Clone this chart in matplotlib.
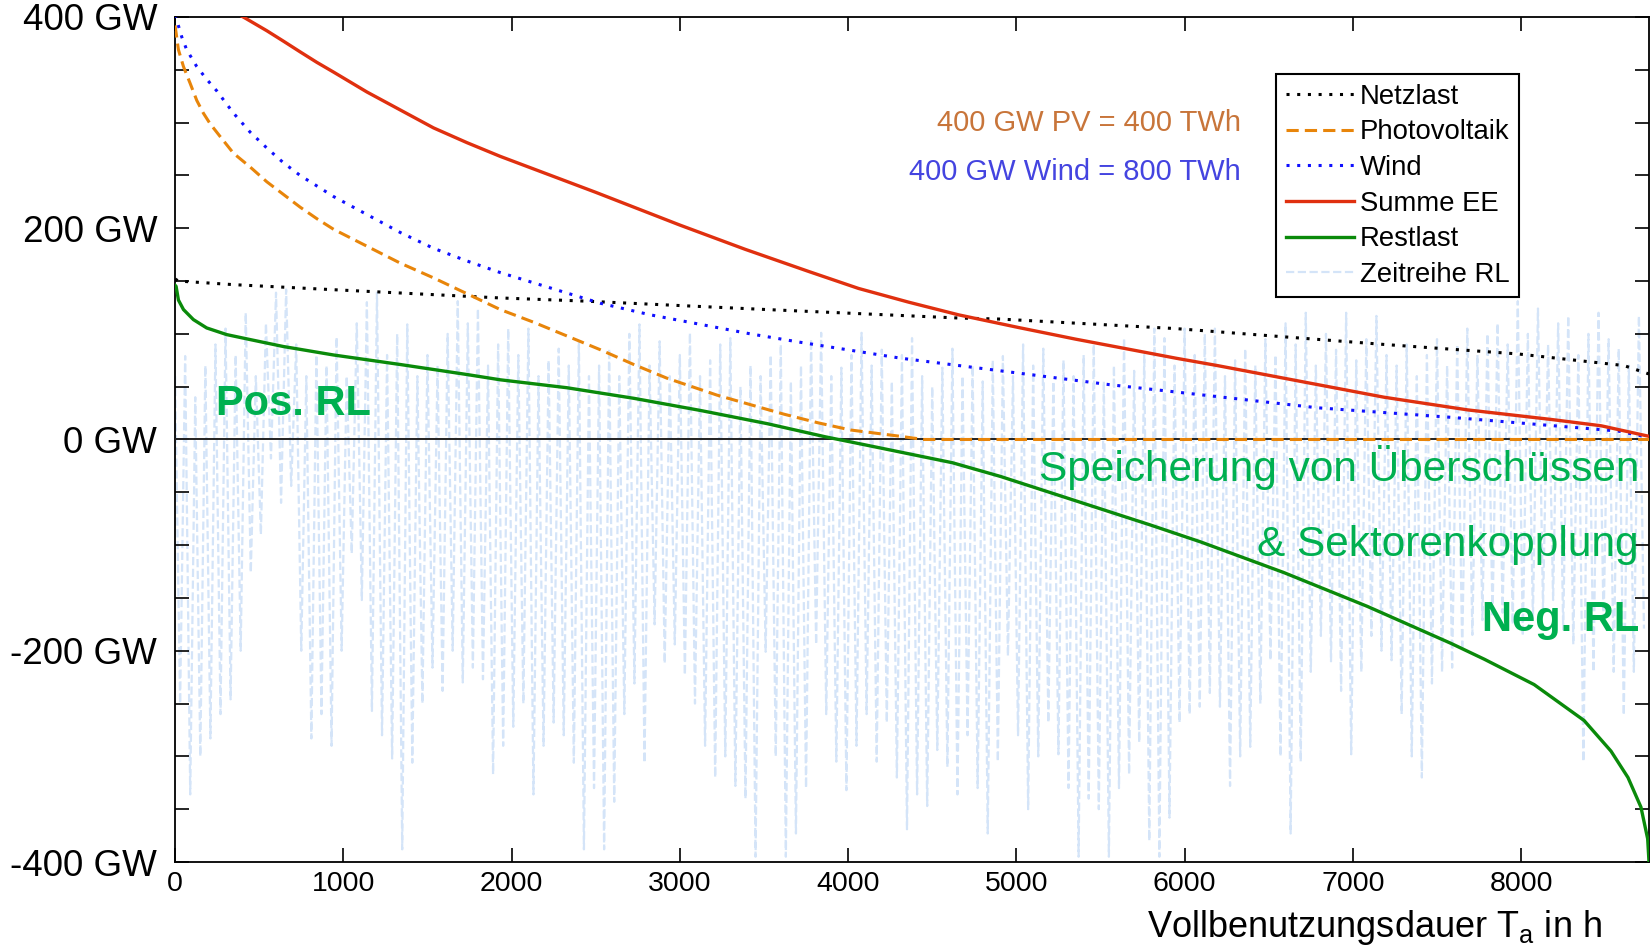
import matplotlib
matplotlib.use("Agg")
import matplotlib.pyplot as plt
import numpy as np

plt.rcParams['font.family'] = ['Liberation Sans', 'DejaVu Sans']
plt.rcParams['mathtext.fontset'] = 'custom'
plt.rcParams['mathtext.rm'] = 'Liberation Sans'

# duration curves (hours, GW)
netz_h = [0, 20, 347, 942, 1338, 1933, 2438, 2973, 3519, 4657, 4906, 5947, 7184, 7981, 8611, 8760]
netz_gw = [152, 150, 146.6, 141.8, 138.7, 134, 131, 127, 123, 115, 114, 105, 90, 81, 70, 62]

pv_h = [0, 20, 50, 90, 129, 168, 208, 267, 347, 446, 545, 644, 743, 843, 942, 1140, 1338, 1536,
        1735, 1933, 2131, 2329, 2527, 2726, 2924, 3221, 3419, 3618, 3816, 4014, 4311, 4450, 8760]
pv_gw = [392, 369, 353, 337, 321, 309, 299, 287, 271, 258, 244, 232, 220, 209, 199, 183, 167, 153,
         138, 123, 111, 98, 85, 71, 58, 42, 33, 24, 16, 9, 3, 0, 0]

wind_h = [0, 10, 40, 69, 129, 188, 248, 347, 446, 545, 644, 743, 843, 942, 1140, 1338, 1536, 1735,
          1933, 2527, 2825, 3122, 3419, 3717, 3915, 4311, 4708, 5549, 5947, 6791, 7583, 8576, 8760]
wind_gw = [402, 397, 381, 369, 353, 341, 330, 309, 291, 276, 262, 250, 240, 230, 213, 196, 181, 169,
           158, 129, 118, 109, 100, 92, 87, 77, 69, 52, 45, 30, 21, 8, 2]

ee_h = [0, 200, 416, 545, 645, 743, 843, 940, 1140, 1338, 1536, 1735, 1933, 2500, 3000, 3389, 3767,
        4062, 4360, 4657, 5013, 5352, 5650, 5947, 6194, 6690, 7186, 7683, 8177, 8475, 8760]
ee_gw = [445, 418, 399, 387, 377, 367, 357, 348, 329, 312, 295, 281, 268, 234, 203, 180, 159,
         143, 130, 118, 106, 95, 86, 77, 70, 55, 40, 28, 19, 13, 3]

rest_h = [0, 6, 20, 50, 109, 188, 307, 446, 644, 942, 1338, 1735, 1933, 2329, 2726, 3122, 3519,
          3866, 4114, 4620, 4906, 5352, 5798, 6096, 6590, 7086, 7583, 7781, 8077, 8374, 8534, 8635,
          8712, 8752, 8760]
rest_gw = [146, 145, 132, 123, 113.5, 105.6, 99.3, 94.6, 88, 80, 71, 61.5, 56.5, 49, 39, 27.5, 15,
           2.5, -5.5, -22, -35, -58, -81, -97, -126, -158, -193, -208, -232, -266, -295, -320,
           -348, -378, -400]

# chronological residual load: rough daily highs / lows, one pair per 60 h
rl_high = [60, 79, 40, 70, 90, 105, 80, 120, 60, 110, 139, 142, 90, 60, 80, 70, 97, 60, 110, 130,
           139, 80, 100, 109, 60, 80, 70, 100, 131, 110, 124, 70, 90, 105, 80, 105, 60, 75, 86, 70,
           93, 60, 70, 86, 60, 100, 109, 70, 93, 60, 80, 101, 60, 75, 90, 96, 50, 70, 60, 80,
           90, 55, 70, 95, 101, 60, 68, 80, 101, 70, 85, 55, 80, 96, 60, 50, 68, 86, 60, 70,
           55, 75, 79, 60, 90, 70, 86, 55, 75, 60, 80, 90, 55, 70, 96, 65, 80, 105, 96, 70,
           105, 80, 100, 105, 60, 75, 86, 70, 95, 80, 110, 90, 120, 70, 100, 85, 120, 75, 95, 117,
           80, 70, 90, 60, 80, 95, 70, 90, 105, 80, 100, 110, 90, 131, 100, 124, 90, 110, 117, 80,
           100, 120, 95, 86, 70, 117]
rl_low = [-250, -336, -300, -283, -260, -246, -200, -126, -90, -18, -60, -44, -200, -283, -260, -290,
          -200, -108, -152, -257, -280, -302, -388, -306, -250, -216, -238, -200, -230, -216, -227,
          -317, -290, -272, -250, -336, -290, -268, -280, -306, -388, -330, -388, -343, -260, -231,
          -306, -175, -212, -194, -223, -250, -290, -320, -300, -328, -340, -395, -201, -300, -395,
          -373, -330, -194, -260, -305, -332, -290, -260, -305, -268, -320, -369, -336, -347, -294,
          -310, -336, -280, -330, -373, -305, -205, -280, -350, -300, -268, -298, -330, -395, -340,
          -350, -395, -330, -317, -287, -380, -395, -358, -268, -260, -253, -240, -253, -328, -300,
          -291, -250, -209, -300, -373, -305, -220, -186, -210, -238, -298, -220, -186, -200, -209,
          -260, -300, -320, -231, -220, -216, -200, -185, -171, -168, -164, -175, -186, -170, -160,
          -152, -180, -194, -305, -220, -175, -220, -261, -220, -179]

n = min(len(rl_high), len(rl_low))
rl_vals = np.empty(2 * n)
rl_vals[0::2] = rl_high[:n]
rl_vals[1::2] = rl_low[:n]
rl_h = np.arange(2 * n) * 30

fig = plt.figure(figsize=(16.5, 9.48), dpi=100)
ax = fig.add_axes([0.1061, 0.0907, 0.8933, 0.8914])

ax.plot(netz_h, netz_gw, color='black', lw=2.2, ls=(0, (1, 2.5)), label='Netzlast', zorder=4)
ax.plot(pv_h, pv_gw, color='#e8850a', lw=2.2, ls=(0, (4, 2)), label='Photovoltaik', zorder=4)
ax.plot(wind_h, wind_gw, color='#1010ff', lw=2.2, ls=(0, (1, 2.5)), label='Wind', zorder=4)
ax.plot(ee_h, ee_gw, color='#e0300f', lw=2.4, label='Summe EE', zorder=4)
ax.plot(rest_h, rest_gw, color='#0a8a0a', lw=2.4, label='Restlast', zorder=4)
ax.plot(rl_h, rl_vals, color='#d4e4f8', lw=1.6, ls='--', label='Zeitreihe RL', zorder=1)

ax.axhline(0, color='#222222', lw=1.4, zorder=3)

ax.set_xlim(0, 8760)
ax.set_ylim(-400, 400)
ax.set_xticks(np.arange(0, 9000, 1000))
ax.set_xticklabels([str(v) for v in range(0, 9000, 1000)], fontsize=20.5)
yt = np.arange(-400, 401, 50)
ax.set_yticks(yt)
ax.set_yticklabels([f'{v} GW' if v % 200 == 0 else '' for v in yt], fontsize=26.5)
ax.tick_params(direction='in', length=10, width=1.2, top=True, right=True)
ax.tick_params(axis='y', pad=13)
ax.tick_params(axis='x', pad=6.5)
for s in ax.spines.values():
    s.set_linewidth(1.3)

leg = ax.legend(loc='upper left', bbox_to_anchor=(0.747, 0.9325), borderaxespad=0,
                fontsize=19.8, handlelength=2.5, handletextpad=0.2, labelspacing=0.35,
                borderpad=0.35, fancybox=False, framealpha=1, edgecolor='black')
leg.get_frame().set_linewidth(1.5)

ax.text(6334, 292, '400 GW PV = 400 TWh', ha='right', va='baseline', fontsize=21, color='#c8753a')
ax.text(6334, 246, '400 GW Wind = 800 TWh', ha='right', va='baseline', fontsize=21, color='#4444e0')

green = '#00b050'
ax.text(244, 23, 'Pos. RL', ha='left', va='baseline', fontsize=30, fontweight='bold', color=green)
ax.text(8700, -39, 'Speicherung von Überschüssen', ha='right', va='baseline', fontsize=30.5, color=green)
ax.text(8700, -110, '& Sektorenkopplung', ha='right', va='baseline', fontsize=30.5, color=green)
ax.text(8700, -181, 'Neg. RL', ha='right', va='baseline', fontsize=30, fontweight='bold', color=green)

fig.text(1602 / 1650, (948 - 937) / 948, r'Vollbenutzungsdauer T$_\mathrm{a}$ in h',
         ha='right', va='baseline', fontsize=26)

fig.savefig('out.png', dpi=100)
